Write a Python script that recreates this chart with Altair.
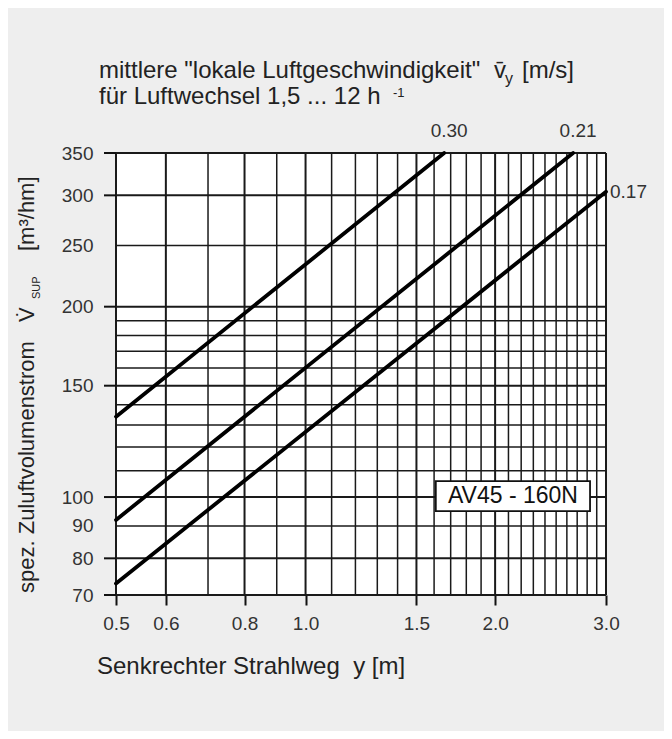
import altair as alt
import pandas as pd

# ---------------- data ----------------
x_grid = [0.5, 0.6, 0.7, 0.8, 0.9, 1.0, 1.1, 1.2, 1.3, 1.4, 1.5, 1.6, 1.7,
          1.8, 1.9, 2.0, 2.1, 2.2, 2.3, 2.4, 2.5, 2.6, 2.7, 2.8, 2.9, 3.0]
y_grid = [70, 80, 90, 100, 110, 120, 130, 140, 150, 160, 170, 180, 190,
          200, 250, 300, 350]
x_major = [0.5, 0.6, 0.8, 1.0, 1.5, 2.0, 3.0]
y_major = [70, 80, 100, 150, 200, 300, 350]
x_labels = [0.5, 0.6, 0.8, 1.0, 1.5, 2.0, 3.0]
y_labels = [70, 80, 90, 100, 150, 200, 250, 300, 350]
y_ticks = [70, 80, 100, 150, 200, 300, 350]

line_names = ["0.30", "0.21", "0.17"]
line_x = [[0.5, 1.66], [0.5, 2.66], [0.5, 3.0]]
line_y = [[134, 350], [92, 350], [73, 304]]

box_x = [1.61, 2.83]
box_y = [95, 106]
box_text = "AV45 - 160N"

FONT = "Liberation Sans"

# ---------------- tables ----------------
gx = pd.DataFrame({"gx": x_grid, "w": [2.0 if v in x_major else 1.5 for v in x_grid]})
gy = pd.DataFrame({"gy": y_grid, "w": [2.0 if v in y_major else 1.5 for v in y_grid]})
ticks = pd.DataFrame({"ty": y_ticks})
rows = []
for n, xs, ys in zip(line_names, line_x, line_y):
    for i, (a, b) in enumerate(zip(xs, ys)):
        rows.append({"name": n, "x": a, "y": b, "i": i})
lines = pd.DataFrame(rows)
ends = pd.DataFrame([{"name": n, "x": xs[-1], "y": ys[-1]} for n, xs, ys in zip(line_names, line_x, line_y)])
box = pd.DataFrame([{"x": box_x[0], "x2": box_x[1], "y": box_y[0], "y2": box_y[1],
                     "xc": (box_x[0] * box_x[1]) ** 0.5, "yc": (box_y[0] * box_y[1]) ** 0.5,
                     "t": box_text}])

xscale = alt.Scale(type="log", domain=[0.5, 3.0], nice=False, zero=False)
yscale = alt.Scale(type="log", domain=[70, 350], nice=False, zero=False)
xaxis = alt.Axis(values=x_labels, format=".1f", labelFontSize=19, labelColor="#333333",
                 labelFont=FONT, tickSize=10, tickColor="#111111", tickWidth=2,
                 domain=False, grid=False, title=None, labelPadding=9, labelFlush=False)
yaxis = alt.Axis(values=y_labels, format="d", labelFontSize=19, labelColor="#333333",
                 labelFont=FONT, tickSize=0, domain=False, grid=False, title=None,
                 labelPadding=23, labelBaseline="middle", labelFlush=False)


def X(f):
    return alt.X(f, type="quantitative", scale=xscale, axis=xaxis)


def Y(f):
    return alt.Y(f, type="quantitative", scale=yscale, axis=yaxis)


vgrid = alt.Chart(gx).mark_rule(color="#1a1a1a").encode(
    x=X("gx"), strokeWidth=alt.StrokeWidth("w:Q", scale=None))
hgrid = alt.Chart(gy).mark_rule(color="#1a1a1a").encode(
    y=Y("gy"), strokeWidth=alt.StrokeWidth("w:Q", scale=None))
yt = alt.Chart(ticks).mark_rule(color="#111111", strokeWidth=2).encode(
    y=Y("ty"), x=alt.value(-12), x2=alt.value(0))

curves = alt.Chart(lines).mark_line(color="#000000", strokeWidth=3.8, strokeCap="round").encode(
    x=X("x"), y=Y("y"), detail="name:N", order="i:Q")

lab_top = alt.Chart(ends[ends["y"] >= 350]).mark_text(
    fontSize=19, font=FONT, color="#333333", dy=-22, dx=5, baseline="middle").encode(
    x=X("x"), y=Y("y"), text="name:N")
lab_right = alt.Chart(ends[ends["y"] < 350]).mark_text(
    fontSize=19, font=FONT, color="#333333", dx=4, align="left", baseline="middle").encode(
    x=X("x"), y=Y("y"), text="name:N")

boxr = alt.Chart(box).mark_rect(fill="white", stroke="#111111", strokeWidth=1.8).encode(
    x=X("x"), x2="x2", y=Y("y"), y2="y2")
boxt = alt.Chart(box).mark_text(fontSize=23, font=FONT, color="#111111", baseline="middle").encode(
    x=X("xc"), y=Y("yc"), text="t:N")

one = alt.Data(values=[{"a": 1}])


def txt(s, x, y, size=24, angle=0, color="#222222"):
    kw = dict(text=s, fontSize=size, font=FONT, color=color, align="left", baseline="alphabetic")
    if angle:
        kw["angle"] = angle
    return alt.Chart(one).mark_text(**kw).encode(x=alt.value(x), y=alt.value(y))


titles = [
    txt('mittlere "lokale Luftgeschwindigkeit"', -17, -75),
    txt("v\u0304", 378, -75),
    txt("y", 389, -69, size=16),
    txt("[m/s]", 406, -75),
    txt("für Luftwechsel 1,5 ... 12 h", -17, -49),
    txt("-1", 277, -56, size=13),
    txt("Senkrechter Strahlweg\u00a0 y [m]", -19, 521),
    txt("spez. Zuluftvolumenstrom", -82, 440, size=22, angle=270),
    txt("V\u0307", -82, 169, size=22, angle=270),
    txt("SUP", -76, 146, size=11, angle=270),
    txt("[m³/hm]", -82, 98, size=22, angle=270),
]

chart = alt.layer(vgrid, hgrid, yt, curves, lab_top, lab_right, boxr, boxt, *titles).properties(
    width=490, height=442,
    padding={"left": 108, "top": 145, "right": 58, "bottom": 136},
    autosize=alt.AutoSizeParams(type="none"),
).configure(background="#eeeeee").configure_view(fill="white", stroke=None)

chart.save("out.html", embed_options={"renderer": "svg", "actions": False})
